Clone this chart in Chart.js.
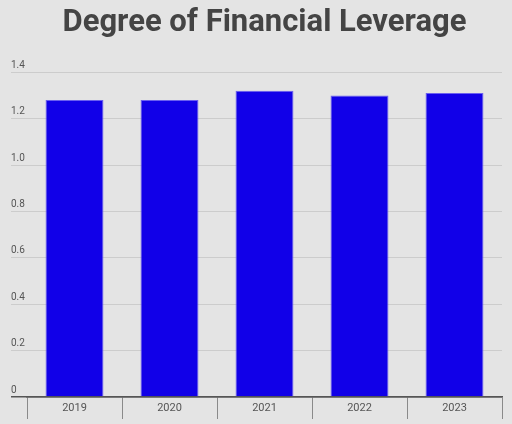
<!DOCTYPE html>
<html>
<head>
<meta charset="utf-8">
<script src="https://cdn.jsdelivr.net/npm/chart.js@4"></script>
<style>
    html, body { margin: 0; padding: 0; background: #e4e4e4; }
    #wrap { width: 512px; height: 424px; }
</style>
</head>
<body>
<div id="wrap"><canvas id="leverage-chart" width="512" height="424"></canvas></div>
<script>
const years = ['2019', '2020', '2021', '2022', '2023'];
const leverageValues = [1.28, 1.28, 1.32, 1.30, 1.31];
const yTicks = [0, 0.2, 0.4, 0.6, 0.8, 1.0, 1.2, 1.4];

const ctx = document.getElementById('leverage-chart').getContext('2d');
window.leverageChart = new Chart(ctx, {
    type: 'bar',
    data: {
        labels: years,
        datasets: [{
            label: 'Degree of Financial Leverage',
            data: leverageValues,
            backgroundColor: '#1100e8',
            borderColor: '#6a5ff0',
            borderWidth: 1,
            barPercentage: 0.61,
            categoryPercentage: 1
        }]
    },
    options: {
        responsive: false,
        animation: false,
        layout: {
            padding: {left: 11, right: 10, top: 0, bottom: 0}
        },
        plugins: {
            legend: {
                display: false
            },
            tooltip: {
                enabled: false
            },
            title: {
                display: true,
                fullSize: false,
                text: 'Degree of Financial Leverage',
                color: '#444444',
                font: {family: 'Roboto', size: 31, weight: 'bold'},
                padding: {top: 5, bottom: 30}
            }
        },
        scales: {
            x: {
                offset: true,
                grid: {
                    offset: true,
                    drawOnChartArea: false,
                    drawTicks: true,
                    tickLength: 22,
                    color: '#8a8a8a',
                    lineWidth: 1
                },
                border: {
                    display: true,
                    color: '#555555',
                    width: 1.5
                },
                ticks: {
                    color: '#555555',
                    font: {family: 'Roboto', size: 11},
                    padding: -17,
                    maxRotation: 0
                },
                afterFit: function (axis) {
                    axis.height = 27;
                }
            },
            y: {
                min: 0,
                max: 1.4,
                afterBuildTicks: function (axis) {
                    axis.ticks = yTicks.map(v => ({value: v}));
                },
                grid: {
                    drawTicks: true,
                    tickLength: 16,
                    color: function (context) {
                        return context.tick && context.tick.value === 0 ? '#555555' : '#cccccc';
                    },
                    lineWidth: function (context) {
                        return context.tick && context.tick.value === 0 ? 1.5 : 1;
                    }
                },
                border: {
                    display: false
                },
                ticks: {
                    color: '#555555',
                    font: {family: 'Roboto', size: 10},
                    crossAlign: 'far',
                    labelOffset: -7,
                    callback: function (value) {
                        return value === 0 ? '0' : value.toFixed(1);
                    }
                },
                afterFit: function (axis) {
                    axis.width = 16;
                }
            }
        }
    }
});
</script>
</body>
</html>
